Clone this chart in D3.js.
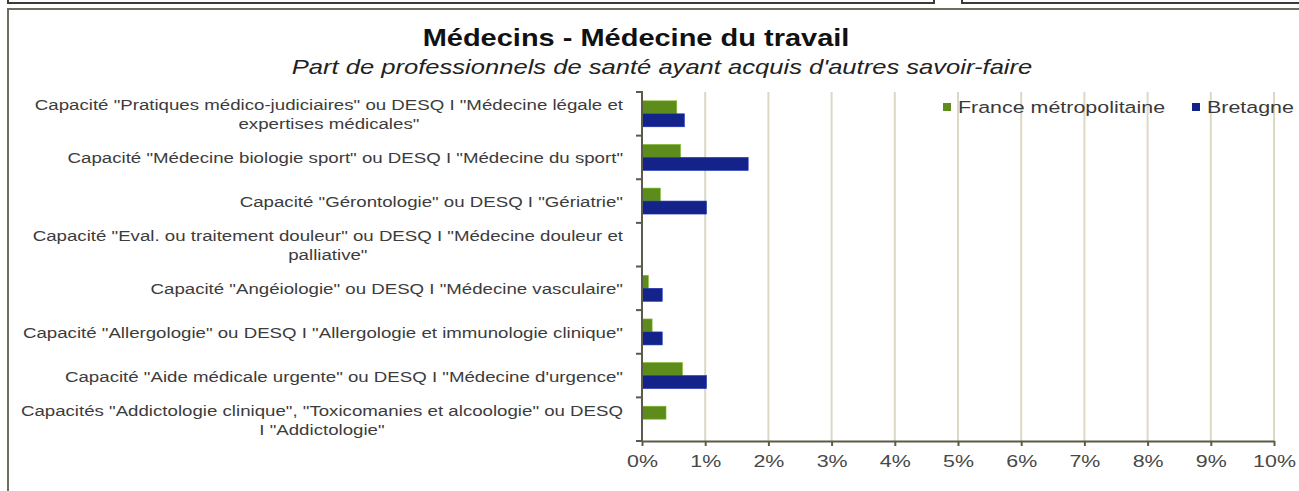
<!DOCTYPE html>
<html>
<head>
<meta charset="utf-8">
<script src="https://cdn.jsdelivr.net/npm/d3@7"></script>
<style>
  body { margin: 0; background: #fff; }
  svg { display: block; font-family: "Liberation Sans", Arial, sans-serif; }
</style>
</head>
<body>
<svg id="chart" width="1299" height="491"></svg>
<script>
// categories, each as its wrapped lines
const categories = [
  ['Capacité "Pratiques médico-judiciaires" ou DESQ I "Médecine légale et', 'expertises médicales"'],
  ['Capacité "Médecine biologie sport" ou DESQ I "Médecine du sport"'],
  ['Capacité "Gérontologie" ou DESQ I "Gériatrie"'],
  ['Capacité "Eval. ou traitement douleur" ou DESQ I "Médecine douleur et', 'palliative"'],
  ['Capacité "Angéiologie" ou DESQ I "Médecine vasculaire"'],
  ['Capacité "Allergologie" ou DESQ I "Allergologie et immunologie clinique"'],
  ['Capacité "Aide médicale urgente" ou DESQ I "Médecine d\'urgence"'],
  ['Capacités "Addictologie clinique", "Toxicomanies et alcoologie" ou DESQ', 'I "Addictologie"']
];
const seriesNames = ['France métropolitaine', 'Bretagne'];
const franceValues = [0.0055, 0.0061, 0.0029, 0, 0.0010, 0.0016, 0.0064, 0.0038];
const bretagneValues = [0.0067, 0.0168, 0.0102, 0, 0.0032, 0.0032, 0.0102, 0];
const xTicks = [0, 0.01, 0.02, 0.03, 0.04, 0.05, 0.06, 0.07, 0.08, 0.09, 0.10];
const colors = ['#5d8c1c', '#13238a'];

// the original picture is stretched sideways, so text is too
const SX = 1.26;
const SX_LABEL = 1.245;

const svg = d3.select('#chart');

function putText(parent, x, y, anchor, txt, sx = SX) {
  return parent.append('text')
    .attr('transform', `translate(${x},${y}) scale(${sx},1)`)
    .attr('text-anchor', anchor)
    .text(txt);
}

// frames of the surrounding panels
svg.append('rect').attr('x', 8).attr('y', -20).attr('width', 926).attr('height', 23)
  .attr('fill', 'none').attr('stroke', '#3c3c34').attr('stroke-width', 2);
svg.append('rect').attr('x', 962).attr('y', -20).attr('width', 360).attr('height', 23)
  .attr('fill', 'none').attr('stroke', '#3c3c34').attr('stroke-width', 2);
svg.append('rect').attr('x', 8).attr('y', 9).attr('width', 1320).attr('height', 520)
  .attr('fill', 'none').attr('stroke', '#6e6c5c').attr('stroke-width', 2);

putText(svg, 636, 46, 'middle', 'Médecins - Médecine du travail')
  .attr('font-size', 23).attr('font-weight', 'bold').attr('fill', '#111');
putText(svg, 662, 74, 'middle', "Part de professionnels de santé ayant acquis d'autres savoir-faire")
  .attr('font-size', 20.3).attr('font-style', 'italic').attr('fill', '#222');

const x = d3.scaleLinear().domain([0, 0.10]).range([642, 1274]);
const y = d3.scaleBand().domain(d3.range(categories.length)).range([92, 441]);
const ySub = d3.scaleBand().domain([0, 1]).range([0, y.bandwidth()]).paddingOuter(0.68);

// gridlines
svg.append('g').selectAll('line').data(xTicks.slice(1)).join('line')
  .attr('x1', d => x(d)).attr('x2', d => x(d))
  .attr('y1', 92).attr('y2', 441)
  .attr('stroke', '#dcd8c4').attr('stroke-width', 2);

// bars
const groups = svg.append('g').selectAll('g').data(categories).join('g')
  .attr('transform', (d, i) => `translate(0,${y(i)})`);
groups.selectAll('rect')
  .data((d, i) => [franceValues[i], bretagneValues[i]])
  .join('rect')
  .attr('x', x(0))
  .attr('y', (d, j) => ySub(j))
  .attr('width', d => x(d) - x(0))
  .attr('height', ySub.bandwidth())
  .attr('fill', (d, j) => colors[j])
  .attr('stroke', (d, j) => d > 0 ? d3.color(colors[j]).brighter(0.8) : 'none')
  .attr('stroke-width', 0.6);

// x axis
const xAxis = svg.append('g').attr('transform', 'translate(0,441)')
  .call(d3.axisBottom(x).tickValues(xTicks).tickFormat(d3.format('.0%')).tickSizeInner(5).tickSizeOuter(0).tickPadding(9));
xAxis.select('.domain').attr('stroke', '#5c5a48').attr('stroke-width', 2);
xAxis.selectAll('.tick line').attr('stroke', '#5c5a48').attr('stroke-width', 2);
xAxis.selectAll('.tick text').attr('font-size', 17).attr('fill', '#484848')
  .attr('transform', `scale(${SX},1)`)
  .attr('font-family', '"Liberation Sans", Arial, sans-serif');

// y axis line and boundary ticks
const yBounds = d3.range(categories.length + 1).map(i => 92 + i * y.step());
svg.append('line').attr('x1', 642).attr('x2', 642).attr('y1', 91).attr('y2', 442)
  .attr('stroke', '#5c5a48').attr('stroke-width', 2);
svg.append('g').selectAll('line').data(yBounds).join('line')
  .attr('x1', 636).attr('x2', 642).attr('y1', d => d).attr('y2', d => d)
  .attr('stroke', '#5c5a48').attr('stroke-width', 2);

// category labels
const labels = svg.append('g').attr('font-size', 15).attr('fill', '#3c3c3c');
categories.forEach((lines, i) => {
  const cy = y(i) + y.bandwidth() / 2;
  const lh = 19;
  const y1 = cy - (lines.length - 1) * lh / 2 + 6;
  const t1 = putText(labels, 623, y1, 'end', lines[0], SX_LABEL);
  if (lines.length > 1) {
    const w = t1.node().getComputedTextLength() * SX_LABEL;
    putText(labels, 623 - w / 2, y1 + lh, 'middle', lines[1], SX_LABEL);
  }
});

// legend
const legend = svg.append('g').attr('font-size', 17).attr('fill', '#3a3a3a');
const legendX = [943, 1192];
seriesNames.forEach((name, j) => {
  legend.append('rect').attr('x', legendX[j]).attr('y', 103).attr('width', 8).attr('height', 8)
    .attr('fill', colors[j]);
  putText(legend, legendX[j] + 15, 113, 'start', name);
});
</script>
</body>
</html>
